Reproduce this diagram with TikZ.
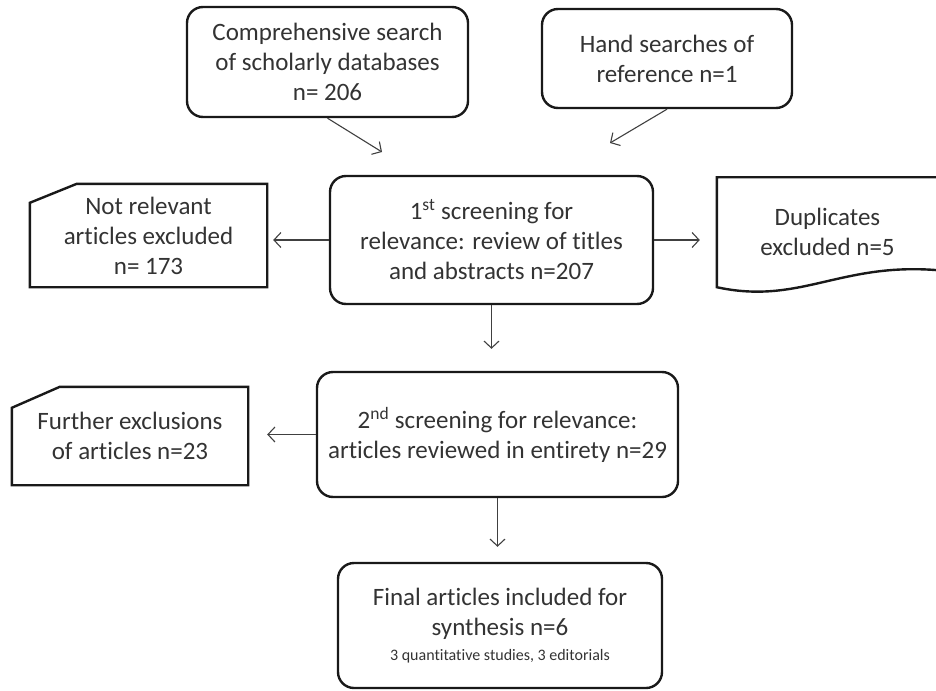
\documentclass[tikz,border=0pt]{standalone}
\usepackage{fontspec}
\setmainfont{Carlito}[Ligatures=NoCommon]
\usetikzlibrary{arrows.meta}

\begin{document}
\begin{tikzpicture}[x=1pt, y=1pt,
      every node/.style={font=\fontsize{25}{30}\selectfont, text=black!80,
                         align=center, inner sep=0pt},
      blk/.style={draw=black!90, line width=2.4pt, rounded corners=16pt},
      outl/.style={draw=black!90, line width=2.4pt},
      arr/.style={-{Straight Barb[length=7pt, width=15pt]}, line width=1.1pt,
                  draw=black!75}]
    \useasboundingbox (0,0) rectangle (936,-690);
    \node[blk, minimum width=281pt, minimum height=110pt] (search) at (327.5,-62)
      {Comprehensive search\\of scholarly databases\\n= 206};
    \node[blk, minimum width=250pt, minimum height=99pt] (hand) at (667,-58.5)
      {Hand searches of\\reference n=1};
    \node[blk, minimum width=323pt, minimum height=128pt] (scr1) at (491.5,-240)
      {1\textsuperscript{st} screening for\\relevance: review of titles\\and abstracts n=207};
    \node[minimum width=237pt, minimum height=103pt] (notrel) at (148.5,-235.5)
      {Not relevant\\articles excluded\\n= 173};
    \node[minimum width=221pt, minimum height=110pt] (dup) at (827.5,-232)
      {Duplicates\\excluded n=5};
    \node[blk, minimum width=361pt, minimum height=125pt] (scr2) at (497.5,-434.5)
      {2\textsuperscript{nd} screening for relevance:\\articles reviewed in entirety n=29};
    \node[minimum width=236pt, minimum height=98pt] (further) at (130,-436)
      {Further exclusions\\of articles n=23};
    \node[blk, minimum width=324pt, minimum height=125pt] (final) at (500,-625.5)
      {Final articles included for\\synthesis n=6\\[-5pt]
       {\fontsize{16}{18}\selectfont 3 quantitative studies, 3 editorials}};
    \coordinate (in1) at (382,-152);
    \coordinate (in2) at (610,-143);
    % outlines of the exclusion boxes
    \draw[outl] ([xshift=47pt]notrel.north west) -- (notrel.north east)
      -- (notrel.south east) -- (notrel.south west)
      -- ([yshift=-19pt]notrel.north west) -- cycle;
    \draw[outl] ([xshift=48pt]further.north west) -- (further.north east)
      -- (further.south east) -- (further.south west)
      -- ([yshift=-21pt]further.north west) -- cycle;
    \draw[outl, shift={(dup.south west)}] (0,0) -- (0,110) -- (221,110) -- (221,17)
      .. controls (123,25) and (83,-18) .. (0,0) -- cycle;
    \draw[arr] (search.south) -- (in1);
    \draw[arr] (hand.south) -- (in2);
    \draw[arr, shorten >=6pt] (scr1.west) -- (scr1.west -| notrel.east);
    \draw[arr, shorten >=17pt] (scr1.east) -- (scr1.east -| dup.west);
    \draw[arr, shorten >=22pt] (scr1.south) -- (scr1.south |- scr2.north);
    \draw[arr, shorten >=19pt] (scr2.west) -- (scr2.west -| further.east);
    \draw[arr, shorten >=15pt] (scr2.south) -- (scr2.south |- final.north);
  \end{tikzpicture}
\end{document}
